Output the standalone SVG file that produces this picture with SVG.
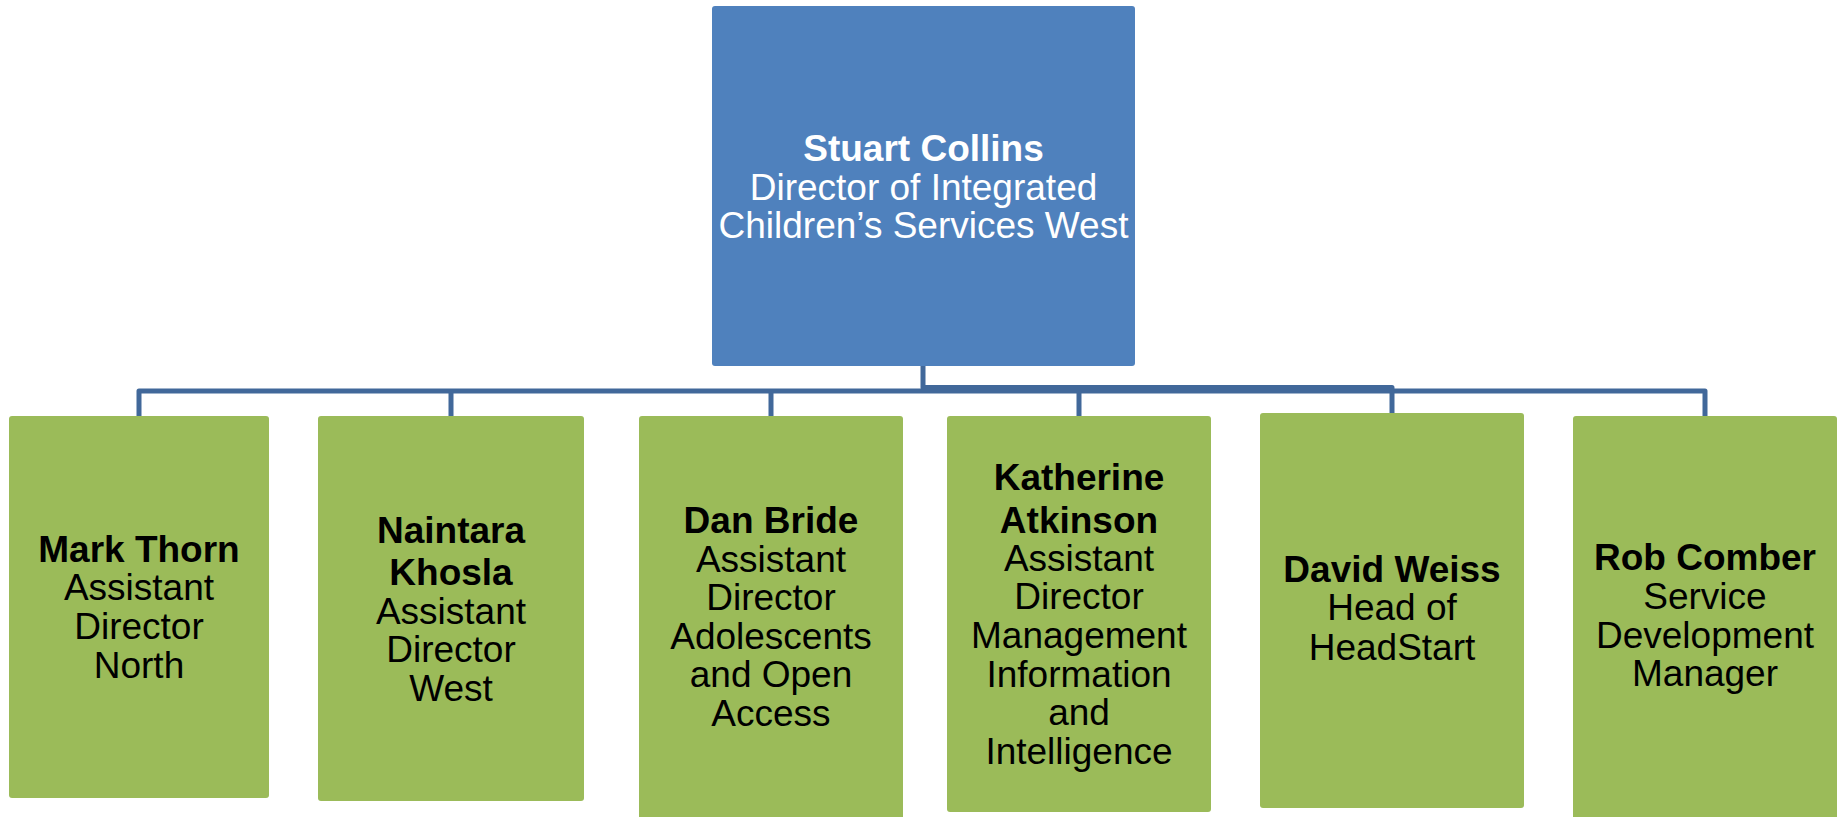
<svg xmlns="http://www.w3.org/2000/svg" width="1841" height="817" viewBox="0 0 1841 817">
<style>
.top{fill:#4F81BD}
.sub{fill:#9BBB59}
.conn{fill:none;stroke:#41689A;stroke-width:5;stroke-linejoin:round}
text{font-family:"Liberation Sans",Arial,sans-serif;font-size:37px;text-anchor:middle}
.w{fill:#FFFFFF}
.k{fill:#000000}
.b{font-weight:bold}
</style>
<rect width="1841" height="817" fill="#FFFFFF"/>
<g id="connectors">
<path class="conn" d="M139,416 V391 H1705 V416"/>
<path class="conn" d="M923,366 V387.5 H1392 V413"/>
<path class="conn" d="M451,391 V416 M771,391 V416 M1079,391 V416"/>
</g>
<g id="stuart-collins">
<rect class="top" x="712" y="6" width="423" height="360" rx="3"/>
<text class="w" x="923.5"><tspan class="b" x="923.5" y="161">Stuart Collins</tspan><tspan x="923.5" y="199.5">Director of Integrated</tspan><tspan x="923.5" y="238">Children’s Services West</tspan></text>
</g>
<g id="mark-thorn">
<rect class="sub" x="9" y="416" width="260" height="382" rx="3"/>
<text class="k"><tspan class="b" x="139" y="562">Mark Thorn</tspan><tspan x="139" y="600">Assistant</tspan><tspan x="139" y="639">Director</tspan><tspan x="139" y="678">North</tspan></text>
</g>
<g id="naintara-khosla">
<rect class="sub" x="318" y="416" width="266" height="385" rx="3"/>
<text class="k"><tspan class="b" x="451" y="542.5">Naintara</tspan><tspan class="b" x="451" y="585">Khosla</tspan><tspan x="451" y="623.5">Assistant</tspan><tspan x="451" y="662">Director</tspan><tspan x="451" y="701">West</tspan></text>
</g>
<g id="dan-bride">
<rect class="sub" x="639" y="416" width="264" height="404" rx="3"/>
<text class="k"><tspan class="b" x="771" y="533">Dan Bride</tspan><tspan x="771" y="571.5">Assistant</tspan><tspan x="771" y="610">Director</tspan><tspan x="771" y="648.5">Adolescents</tspan><tspan x="771" y="687">and Open</tspan><tspan x="771" y="726">Access</tspan></text>
</g>
<g id="katherine-atkinson">
<rect class="sub" x="947" y="416" width="264" height="396" rx="3"/>
<text class="k"><tspan class="b" x="1079" y="489.5">Katherine</tspan><tspan class="b" x="1079" y="532.5">Atkinson</tspan><tspan x="1079" y="570.5">Assistant</tspan><tspan x="1079" y="609">Director</tspan><tspan x="1079" y="647.5">Management</tspan><tspan x="1079" y="686.5">Information</tspan><tspan x="1079" y="725">and</tspan><tspan x="1079" y="764">Intelligence</tspan></text>
</g>
<g id="david-weiss">
<rect class="sub" x="1260" y="413" width="264" height="395" rx="3"/>
<text class="k"><tspan class="b" x="1392" y="581.5">David Weiss</tspan><tspan x="1392" y="620">Head of</tspan><tspan x="1392" y="660">HeadStart</tspan></text>
</g>
<g id="rob-comber">
<rect class="sub" x="1573" y="416" width="264" height="404" rx="3"/>
<text class="k"><tspan class="b" x="1705" y="570">Rob Comber</tspan><tspan x="1705" y="608.5">Service</tspan><tspan x="1705" y="647.5">Development</tspan><tspan x="1705" y="685.5">Manager</tspan></text>
</g>
</svg>
